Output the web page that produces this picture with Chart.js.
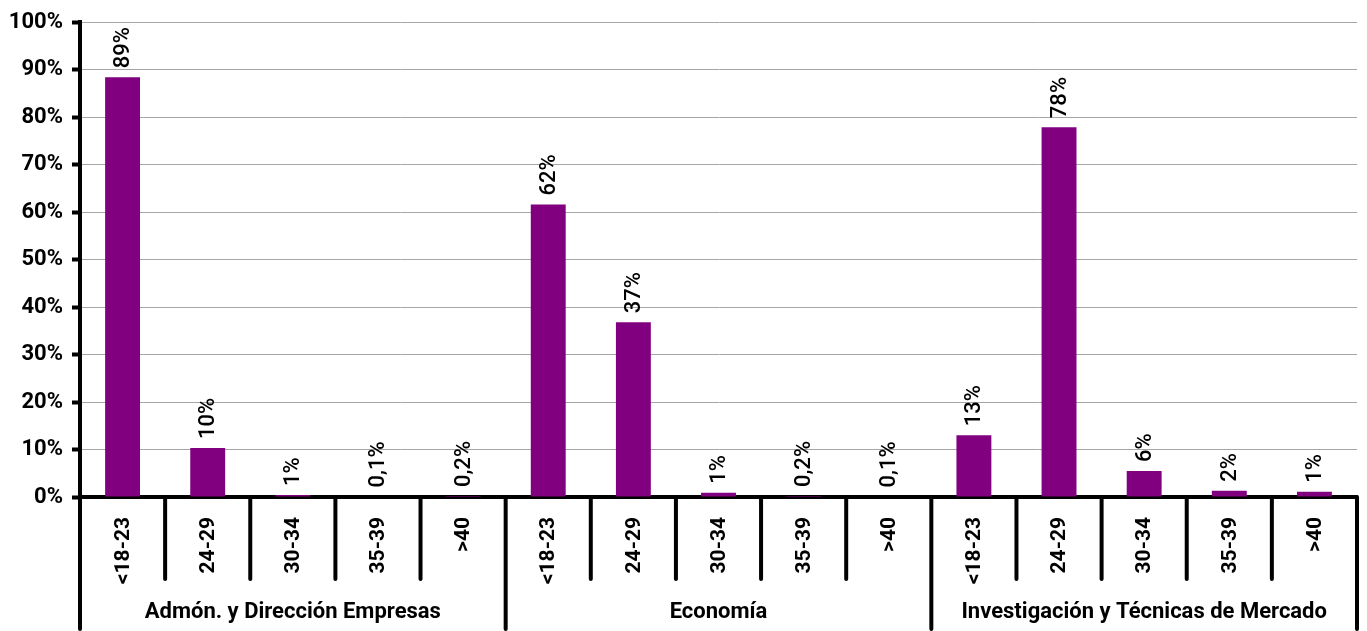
<!DOCTYPE html>
<html>
<head>
<meta charset="utf-8">
<script src="https://cdn.jsdelivr.net/npm/chart.js@4"></script>
<style>
html,body{margin:0;padding:0;background:#fff;}
#wrap{width:1367px;height:631px;position:relative;}
</style>
</head>
<body>
<div id="wrap"><canvas id="c" width="1367" height="631"></canvas></div>
<script>
const groups = ['Admón. y Dirección Empresas', 'Economía', 'Investigación y Técnicas de Mercado'];
const ages = ['<18-23', '24-29', '30-34', '35-39', '>40'];
const values = [88.4, 10.3, 0.4, 0.1, 0.2, 61.6, 36.8, 0.9, 0.2, 0.1, 13.0, 77.9, 5.5, 1.3, 1.1];
const valueLabels = ['89%', '10%', '1%', '0,1%', '0,2%', '62%', '37%', '1%', '0,2%', '0,1%', '13%', '78%', '6%', '2%', '1%'];
const yTicks = [0, 10, 20, 30, 40, 50, 60, 70, 80, 90, 100];

const FONT = 'Roboto, "Liberation Sans Narrow", "DejaVu Sans Condensed", sans-serif';
const labels = [];
groups.forEach(g => ages.forEach(a => labels.push(a)));

const multiAxis = {
  id: 'multiAxis',
  afterDatasetsDraw(chart) {
    const ctx = chart.ctx;
    const meta = chart.getDatasetMeta(0);
    ctx.save();
    ctx.fillStyle = '#000';
    ctx.font = '500 22px ' + FONT;
    ctx.textAlign = 'left';
    ctx.textBaseline = 'middle';
    meta.data.forEach((bar, i) => {
      ctx.save();
      ctx.translate(bar.x, bar.y - 9);
      ctx.rotate(-Math.PI / 2);
      ctx.fillText(valueLabels[i], 0, 1);
      ctx.restore();
    });
    ctx.restore();
  },
  afterDraw(chart) {
    const ctx = chart.ctx;
    const xs = chart.scales.x;
    const ca = chart.chartArea;
    const half = (xs.getPixelForValue(1) - xs.getPixelForValue(0)) / 2;
    const n = labels.length;
    ctx.save();
    ctx.strokeStyle = '#000';
    ctx.lineWidth = 4;
    ctx.lineCap = 'round';
    for (let i = 0; i <= n; i++) {
      const x = i < n ? xs.getPixelForValue(i) - half : xs.getPixelForValue(n - 1) + half;
      const full = (i % ages.length === 0);
      ctx.beginPath();
      ctx.moveTo(x, ca.bottom);
      ctx.lineTo(x, full ? 629 : 579);
      ctx.stroke();
    }
    // age labels
    ctx.fillStyle = '#000';
    ctx.font = 'bold 21px ' + FONT;
    ctx.textAlign = 'right';
    ctx.textBaseline = 'middle';
    labels.forEach((lab, i) => {
      const x = xs.getPixelForValue(i);
      ctx.save();
      ctx.translate(x, ca.bottom + 20);
      ctx.rotate(-Math.PI / 2);
      ctx.fillText(lab, 0, 1);
      ctx.restore();
    });
    // group labels
    ctx.font = 'bold 22px ' + FONT;
    ctx.textAlign = 'center';
    groups.forEach((g, gi) => {
      const a = xs.getPixelForValue(gi * ages.length) - half;
      const b = xs.getPixelForValue(gi * ages.length + ages.length - 1) + half;
      ctx.fillText(g, (a + b) / 2, 612);
    });
    ctx.restore();
  }
};

new Chart(document.getElementById('c'), {
  type: 'bar',
  data: {
    labels: labels,
    datasets: [{
      data: values,
      backgroundColor: '#800080',
      barPercentage: 0.41,
      categoryPercentage: 1.0
    }]
  },
  options: {
    responsive: false,
    animation: false,
    devicePixelRatio: 1,
    layout: { padding: { top: 21, right: 10, left: 0, bottom: 0 } },
    plugins: { legend: { display: false }, tooltip: { enabled: false } },
    scales: {
      x: {
        offset: true,
        grid: { display: false },
        border: { display: true, color: '#000', width: 4 },
        ticks: { display: false },
        afterFit(s) { s.height = 134; }
      },
      y: {
        min: 0, max: 100,
        afterBuildTicks(s) { s.ticks = yTicks.map(v => ({ value: v })); },
        afterFit(s) { s.width = 80; },
        grid: { color: '#a6a6a6', lineWidth: 1, tickLength: 8, tickColor: '#000', tickWidth: 4 },
        border: { display: true, color: '#000', width: 4 },
        ticks: {
          color: '#000',
          padding: 9,
          font: { family: FONT, size: 22, weight: 'bold' },
          callback: v => v + '%'
        }
      }
    }
  },
  plugins: [multiAxis]
});
</script>
</body>
</html>
